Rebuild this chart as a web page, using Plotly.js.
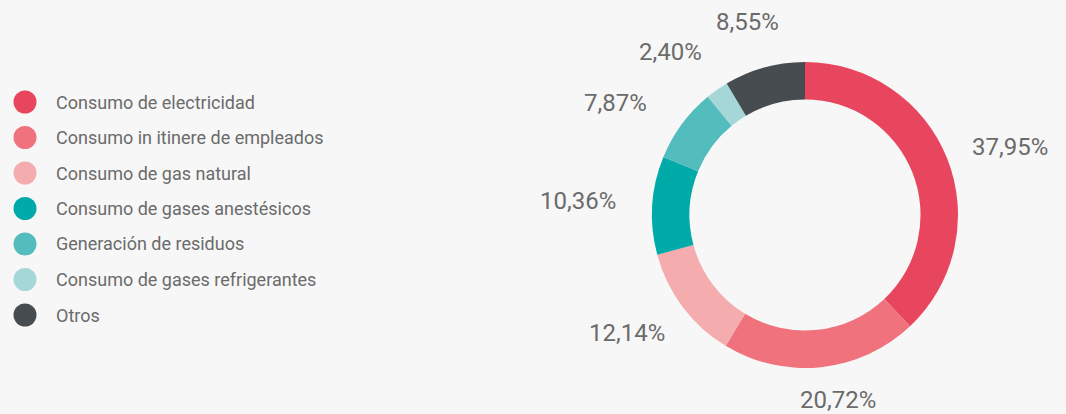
<!DOCTYPE html>
<html>
<head>
<meta charset="utf-8">
<script src="https://cdn.plot.ly/plotly-3.0.1.min.js"></script>
<style>html,body{margin:0;padding:0;background:#f7f7f7;}</style>
</head>
<body>
<div id="chart" style="width:1066px;height:414px;"></div>
<script>
// ---- data ----
const categories = [
  "Consumo de electricidad",
  "Consumo in itinere de empleados",
  "Consumo de gas natural",
  "Consumo de gases anestésicos",
  "Generación de residuos",
  "Consumo de gases refrigerantes",
  "Otros"
];
const values = [37.95, 20.72, 12.14, 10.36, 7.87, 2.40, 8.55];
const colors = ["#e8465f", "#ef727c", "#f5acaf", "#00aaa8", "#53bcbc", "#a5d7d8", "#474c51"];

// ---- layout constants ----
const W = 1066, H = 414;
const pieCx = 805, pieCy = 215, pieR = 153;
const labelR = 185;
// small per-label pixel nudges (label placement, like a label-distribution step)
const labelNudgeX = [-2, 9, 0, -4, -15, -10, 0];
const labelNudgeY = [4, -10, 0, -2, 4, -3, -4];
const textColor = "#6b6b6b";
const labelFont = "Roboto";
const labelSize = 24;
const legendFont = "Roboto, sans-serif";
const legendSize = 18;
const legendX = 25, legendY0 = 102, legendStep = 35.5, legendDot = 23, legendTextX = 54;

const fmt = v => v.toFixed(2).replace('.', ',') + '%';

const ctx = document.createElement('canvas').getContext('2d');
ctx.font = labelSize + 'px ' + labelFont;

const total = values.reduce((a, b) => a + b, 0);
const annotations = [];
let cum = 0;
values.forEach((v, i) => {
  const mid = (cum + v / 2) / total * 2 * Math.PI;
  cum += v;
  const s = Math.sin(mid), c = Math.cos(mid);
  const txt = fmt(v);
  const w = ctx.measureText(txt).width, h = 22;
  const px = pieCx + labelR * s + s * w / 2 + labelNudgeX[i];
  const py = pieCy - labelR * c - c * h / 2 + labelNudgeY[i];
  annotations.push({
    x: px / W, y: 1 - py / H, xref: 'paper', yref: 'paper',
    xanchor: 'center', yanchor: 'middle', showarrow: false,
    text: txt, font: {family: labelFont, size: labelSize, color: textColor}
  });
});

const shapes = [];
categories.forEach((name, i) => {
  const cy = legendY0 + i * legendStep;
  shapes.push({
    type: 'circle', xref: 'paper', yref: 'paper',
    x0: (legendX - legendDot / 2) / W, x1: (legendX + legendDot / 2) / W,
    y0: 1 - (cy + legendDot / 2) / H, y1: 1 - (cy - legendDot / 2) / H,
    fillcolor: colors[i], line: {width: 0}
  });
  annotations.push({
    x: legendTextX / W, y: 1 - cy / H, xref: 'paper', yref: 'paper',
    xanchor: 'left', yanchor: 'middle', showarrow: false,
    text: name, font: {family: legendFont, size: legendSize, color: textColor}
  });
});

const trace = {
  type: 'pie',
  labels: categories,
  values: values,
  marker: {colors: colors, line: {width: 0}},
  hole: 0.755,
  sort: false,
  direction: 'clockwise',
  rotation: 0,
  textinfo: 'none',
  hoverinfo: 'label+percent',
  showlegend: false,
  domain: {
    x: [(pieCx - pieR) / W, (pieCx + pieR) / W],
    y: [1 - (pieCy + pieR) / H, 1 - (pieCy - pieR) / H]
  }
};

const layout = {
  width: W, height: H,
  margin: {l: 0, r: 0, t: 0, b: 0},
  paper_bgcolor: '#f7f7f7',
  plot_bgcolor: '#f7f7f7',
  showlegend: false,
  annotations: annotations,
  shapes: shapes
};

Plotly.newPlot('chart', [trace], layout, {displayModeBar: false, staticPlot: true});
</script>
</body>
</html>
